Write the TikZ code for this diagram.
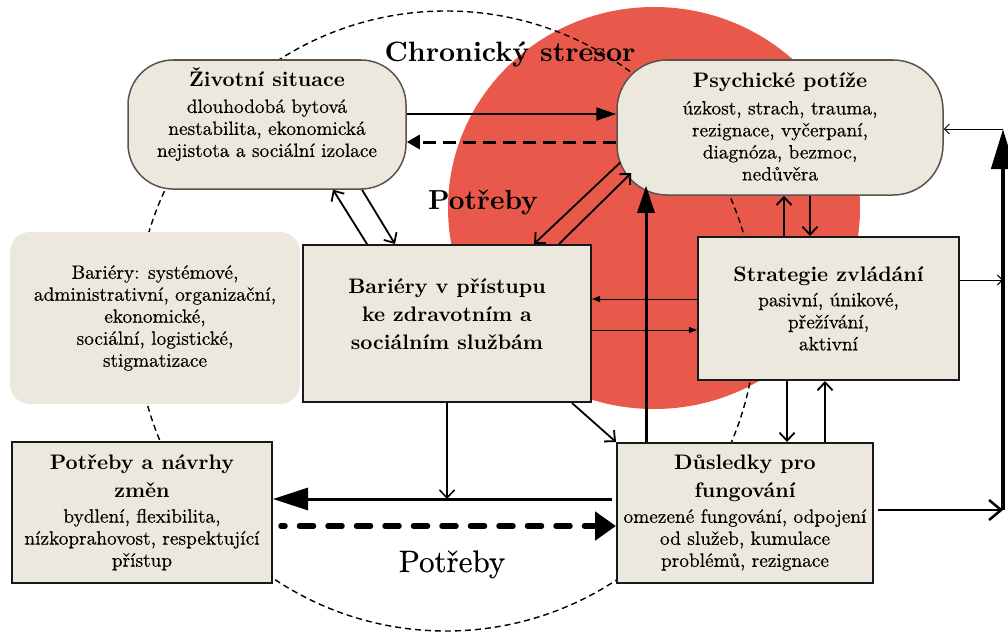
\documentclass[tikz,border=0pt]{standalone}
\usepackage{fontspec}
\setmainfont{lmroman10-regular.otf}[BoldFont=lmroman10-bold.otf]
\newfontfamily\bdyfam{lmroman10-regular.otf}[FakeBold=0.4]
\usetikzlibrary{arrows.meta,calc}

\definecolor{beige}{RGB}{236,232,221}
\definecolor{stress}{RGB}{232,89,76}
\definecolor{taupe}{RGB}{92,82,76}
\newcommand{\ttl}{\rmfamily\bfseries\fontsize{21}{28}\selectfont}
\newcommand{\bdy}{\bdyfam\fontsize{19.3}{22}\selectfont}

\begin{document}
\begin{tikzpicture}[x=1pt, y=-1pt,
  pill/.style={draw=taupe, line width=1.5pt, fill=beige, rectangle,
               rounded corners=45pt, align=center, font=\bdy, inner sep=0pt},
  box/.style={draw=black!90, line width=2pt, fill=beige, rectangle,
              align=center, font=\bdy, inner sep=0pt},
  note/.style={fill=beige, rectangle, rounded corners=20pt, align=center,
               font=\bdy, inner sep=0pt},
  ring/.style={line width=1.4pt, dash pattern=on 6pt off 4pt},
  br/.style={line width=1.8pt, -{Straight Barb[length=8pt,width=15pt]}},
  brb/.style={line width=2.5pt, -{Straight Barb[length=12pt,width=20pt]}},
  hd/.style={line width=2pt, -{Triangle[length=20pt,width=13pt]}},
  hdd/.style={line width=3pt, dash pattern=on 13pt off 7pt,
              -{Triangle[length=13pt,width=14pt]}},
  up/.style={line width=3pt, -{Triangle[length=27pt,width=17pt]}},
  big/.style={line width=3pt, -{Triangle[length=35pt,width=22pt]}},
  bigd/.style={line width=5.5pt, line cap=round, dash pattern=on 14pt off 14.5pt,
               dash phase=10pt, -{Triangle[length=21pt,width=28pt]}},
  vert/.style={line width=4.5pt, -{Triangle[length=40pt,width=23pt]}},
  sm/.style={line width=1pt, -{Triangle[length=8pt,width=6pt]}},
  smb/.style={line width=1pt, -{Straight Barb[length=5pt,width=10pt]}}]

  \useasboundingbox (0,0) rectangle (1008,634);

  % background
  \fill[stress] (654,208) ellipse[x radius=206pt, y radius=201pt];
  \draw[ring] (446,321) circle[radius=310pt];

  % boxes
  \node[pill, minimum width=278pt, minimum height=129pt, text depth=24pt] (zivot) at (267,124.5)
    {{\ttl Životní situace}\\[4pt] dlouhodobá bytová\\ nestabilita, ekonomická\\ nejistota a sociální izolace};
  \node[pill, minimum width=326pt, minimum height=135pt, rounded corners=50pt, text depth=2pt] (psych) at (780,127.5)
    {{\ttl Psychické potíže}\\[5pt] úzkost, strach, trauma,\\ rezignace, vyčerpaní,\\ diagnóza, bezmoc,\\ nedůvěra};
  \node[note, minimum width=290pt, minimum height=172pt] (barlist) at (155,318)
    {Bariéry: systémové,\\ administrativní, organizační,\\ ekonomické,\\ sociální, logistické,\\ stigmatizace};
  \node[box, minimum width=288pt, minimum height=157pt, font=\ttl, text depth=18pt] (barier) at (447,323.5)
    {Bariéry v přístupu\\ ke zdravotním a\\ sociálním službám};
  \node[box, minimum width=261pt, minimum height=143pt] (strat) at (828.5,308.5)
    {{\ttl Strategie zvládání}\\[3pt] pasivní, únikové,\\ přežívání,\\ aktivní};
  \node[box, minimum width=260pt, minimum height=141pt] (potreby) at (142,512.5)
    {{\ttl Potřeby a návrhy}\\[6pt] {\ttl změn}\\[3pt] bydlení, flexibilita,\\ nízkoprahovost, respektující\\ přístup};
  \node[box, minimum width=256pt, minimum height=140pt] (dusl) at (745,513)
    {{\ttl Důsledky pro}\\[6pt] {\ttl fungování}\\[3pt] omezené fungování, odpojení\\ od služeb, kumulace\\ problémů, rezignace};

  % labels
  \node[anchor=base, font=\bfseries\fontsize{28}{32}\selectfont] (chron) at (510,62) {Chronický stresor};
  \node[anchor=base, font=\bfseries\fontsize{27.5}{32}\selectfont] (potr1) at (483,209) {Potřeby};
  \node[anchor=base, font=\bdyfam\fontsize{31}{34}\selectfont] (potr2) at (452,572) {Potřeby};

  \coordinate (rb) at (1003,510);
  \coordinate (rt) at (1003,129);
  \coordinate (jn) at (447,499);

  % connectors
  \draw[hd]  (zivot.east |- 0,114) -- (psych.west |- 0,114);
  \draw[hdd] (psych.west |- 0,142) -- (zivot.east |- 0,142);
  \draw[br]  (barier.north -| 367,0) -- (zivot.south -| 333,0);
  \draw[br]  (zivot.south -| 362,0) -- (barier.north -| 395,0);
  \draw[br]  ($(psych.west)+(4,35)$) -- (barier.north -| 534,0);
  \draw[br]  (barier.north -| 559,0) -- ($(psych.west)+(15,45.5)$);
  \draw[up]  (dusl.north -| 646,0) -- ($(psych.south -| 646,0)+(0,-10)$);
  \draw[br]  (strat.north -| 784,0) -- (psych.south -| 784,0);
  \draw[br]  (psych.south -| 810,0) -- (strat.north -| 810,0);
  \draw[sm]  (strat.west |- 0,299) -- (barier.east |- 0,299);
  \draw[sm]  (barier.east |- 0,330) -- (strat.west |- 0,330);
  \draw[br]  (barier.south -| 572,0) -- (dusl.north west);
  \draw[br, line width=1.5pt] (barier.south) -- (jn);
  \draw[big, shorten <=4pt] (dusl.west |- 0,499) -- (potreby.east |- 0,499);
  \draw[bigd, shorten <=8pt] (potreby.east |- 0,526) -- (dusl.west |- 0,526);
  \draw[br]  (strat.south -| 787,0) -- (dusl.north -| 787,0);
  \draw[br]  (dusl.north -| 825,0) -- (strat.south -| 825,0);
  \draw[brb, shorten <=4pt] (dusl.east |- rb) -- (rb);
  \draw[vert] (rb) -- (rt);
  \draw[smb] (rt) -- (psych.east |- rt);
  \draw[smb] (strat.east |- 0,280) -- (rt |- 0,280);

\end{tikzpicture}
\end{document}
